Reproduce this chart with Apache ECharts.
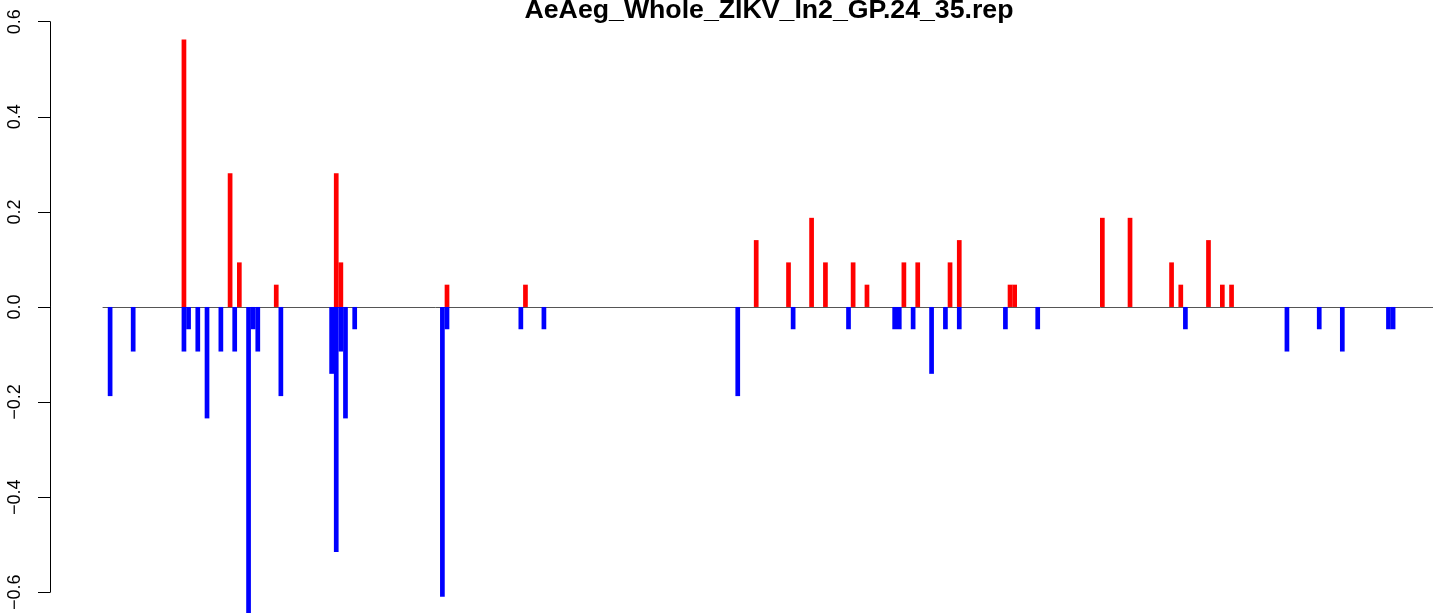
<!DOCTYPE html>
<html>
<head>
<meta charset="utf-8">
<script src="https://cdn.jsdelivr.net/npm/echarts@6/dist/echarts.min.js"></script>
<style>
html,body{margin:0;padding:0;background:#fff;}
#chart{width:1433px;height:613px;}
</style>
</head>
<body>
<div id="chart"></div>
<script>
const chartTitle = 'AeAeg_Whole_ZIKV_In2_GP.24_35.rep';
const yTicks = [-0.6, -0.4, -0.2, 0.0, 0.2, 0.4, 0.6];

const redIdx = [16,26,28,36,49,50,73,90,140,147,152,155,161,164,172,175,182,184,195,196,215,221,230,232,238,241,243];
const redVal = [0.5625,0.28125,0.09375,0.046875,0.28125,0.09375,0.046875,0.046875,0.140625,0.09375,0.1875,0.09375,0.09375,0.046875,0.09375,0.09375,0.09375,0.140625,0.046875,0.046875,0.1875,0.1875,0.09375,0.046875,0.140625,0.046875,0.046875];

const blueIdx = [0,5,16,17,19,21,24,27,30,31,32,37,48,49,50,51,53,72,73,89,94,136,148,160,170,171,174,178,181,184,194,201,233,255,262,267,277,278];
const blueVal = [-0.1875,-0.09375,-0.09375,-0.046875,-0.09375,-0.234375,-0.09375,-0.09375,-0.65625,-0.046875,-0.09375,-0.1875,-0.140625,-0.515625,-0.09375,-0.234375,-0.046875,-0.609375,-0.046875,-0.046875,-0.046875,-0.1875,-0.046875,-0.046875,-0.046875,-0.046875,-0.046875,-0.140625,-0.046875,-0.046875,-0.046875,-0.046875,-0.046875,-0.09375,-0.046875,-0.09375,-0.046875,-0.046875];

const redData = redIdx.map((x, i) => [x, redVal[i]]);
const blueData = blueIdx.map((x, i) => [x, blueVal[i]]);

const chart = echarts.init(document.getElementById('chart'), null, {renderer: 'canvas'});
chart.setOption({
  animation: false,
  backgroundColor: '#ffffff',
  title: {
    text: chartTitle,
    left: 764,
    textAlign: 'center',
    top: -8,
    textStyle: {fontFamily: 'Liberation Sans', fontWeight: 'bold', fontSize: 26.7, color: '#000'}
  },
  grid: {left: 103, right: 0, top: 21.7, bottom: 20.3, containLabel: false},
  xAxis: {
    type: 'value',
    min: -1.54,
    max: 286.65,
    axisLine: {show: true, onZero: true, lineStyle: {color: '#555555', width: 1}},
    axisTick: {show: false},
    axisLabel: {show: false},
    splitLine: {show: false}
  },
  yAxis: {
    type: 'value',
    min: yTicks[0],
    max: yTicks[yTicks.length - 1],
    interval: 0.2,
    offset: 53,
    axisLine: {show: true, onZero: false, lineStyle: {color: '#000', width: 1}},
    axisTick: {show: true, length: 12, lineStyle: {color: '#000', width: 1}},
    splitLine: {show: false},
    axisLabel: {
      rotate: 90,
      margin: 26,
      fontFamily: 'Liberation Sans',
      fontSize: 18,
      color: '#000',
      formatter: v => v.toFixed(1).replace('-', '\u2212')
    }
  },
  series: [
    {type: 'bar', data: redData, barWidth: 4.7, barGap: '-100%', itemStyle: {color: '#ff0000'}, clip: false},
    {type: 'bar', data: blueData, barWidth: 4.7, barGap: '-100%', itemStyle: {color: '#0000ff'}, clip: false}
  ]
});
</script>
</body>
</html>
